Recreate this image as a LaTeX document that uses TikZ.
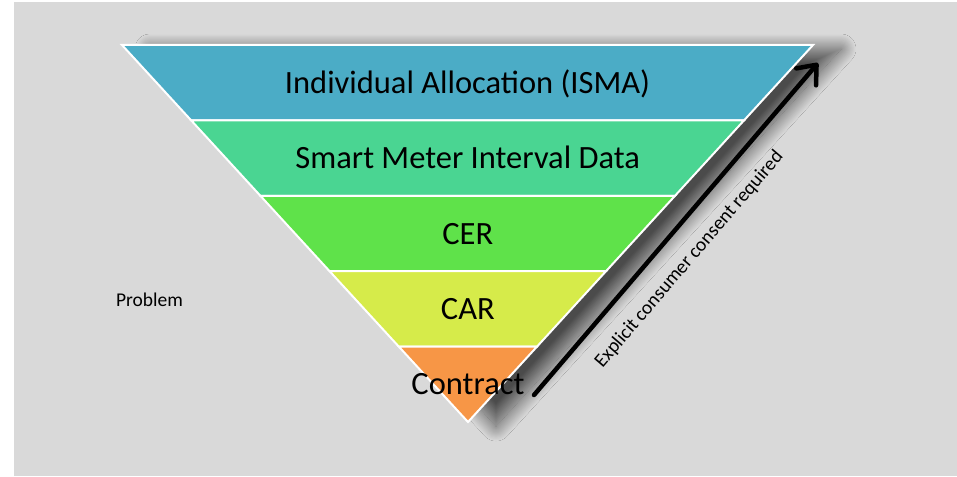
\documentclass[tikz,border=0pt]{standalone}
\usepackage{fontspec}
\setmainfont{Carlito}
\usetikzlibrary{arrows.meta,calc,positioning,shadows.blur}
\definecolor{bgGray}{HTML}{D9D9D9}
\definecolor{layerA}{HTML}{4BACC6}
\definecolor{layerB}{HTML}{4AD592}
\definecolor{layerC}{HTML}{5FE24A}
\definecolor{layerD}{HTML}{D6EB4A}
\definecolor{layerE}{HTML}{F79646}

\begin{document}
\begin{tikzpicture}[x=1pt,y=-1pt]
	\tikzstyle{every node}=[font=\fontsize{32.5}{36}\selectfont, inner sep=0pt]
	\tikzstyle{layer}=[draw=white, line width=2pt]
	\tikzstyle{smalltext}=[font=\fontsize{19.5}{22}\selectfont]
	\useasboundingbox (0,0) rectangle (957,476);
	\fill [white] (0,0) rectangle (957,476);
	\fill [bgGray] (14,2) rectangle (957,476);
	% corners of the funnel
	\coordinate (tl) at (122,45);
	\coordinate (tr) at (813,45);
	\coordinate (top) at (467.5,45);
	\coordinate (bot) at (468,422);
	\fill [bgGray, blur shadow={shadow xshift=28pt, shadow yshift=-4pt, shadow blur radius=15pt, shadow blur steps=50, shadow opacity=65}] (tl) -- (tr) -- (bot) -- cycle;
	% the five layers
	\foreach \i/\col/\txt in {0/layerA/Individual Allocation (ISMA), 1/layerB/Smart Meter Interval Data, 2/layerC/CER, 3/layerD/CAR, 4/layerE/Contract} {
		\filldraw [layer, fill=\col] ($(tl)!{\i/5}!(bot)$) -- ($(tr)!{\i/5}!(bot)$) -- ($(tr)!{(\i+1)/5}!(bot)$) -- ($(tl)!{(\i+1)/5}!(bot)$) -- cycle;
		\node [anchor=base] (layer\i) at ($(top)!{(\i+0.5)/5}!(bot) + (0,10.5)$) {\txt};
	}
	\node [smalltext] (problem) at (149.5,300) {Problem};
	% consent arrow
	\coordinate (astart) at (534,395);
	\coordinate (aend) at (818,63);
	\draw [line width=4.5pt, line cap=round, -{Straight Barb[length=16pt, width=26pt, round]}] (astart) -- (aend);
	\node [smalltext, anchor=base, rotate=49.4] (consent) at ($(astart)!0.467!(aend)!35pt!-90:(aend)$) {Explicit consumer consent required};
\end{tikzpicture}
\end{document}
